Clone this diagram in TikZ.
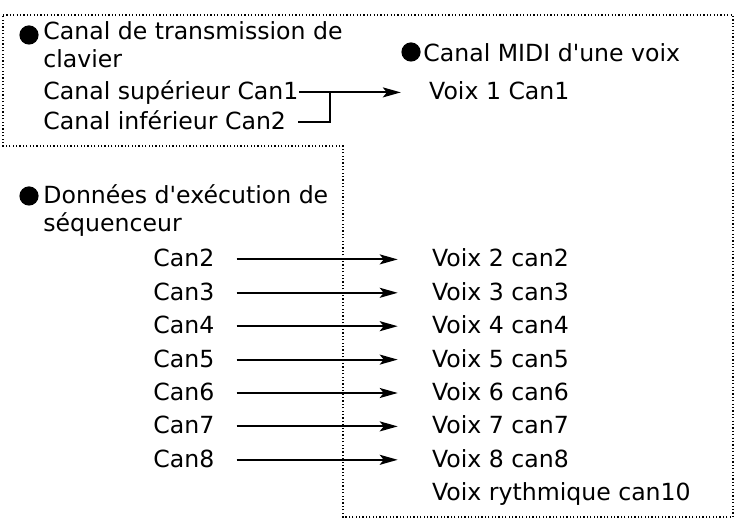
\documentclass[tikz,border=0pt]{standalone}
\usepackage{fontspec}
\setmainfont{DejaVu Sans}
\usetikzlibrary{positioning,arrows.meta,calc}

\begin{document}
\begin{tikzpicture}[x=0.5pt, y=-0.5pt, >={Stealth[length=9pt, width=5pt, inset=2pt]},
  every node/.style={font=\fontsize{11.8}{14.2}\selectfont, inner sep=0pt, anchor=base west},
  chan/.style={text height=7.6pt, text depth=0pt},
  bullet/.style={circle, fill=black, minimum size=9.6pt, anchor=center},
  link/.style={->, line width=1pt},
  frame/.style={line width=0.8pt, dash pattern=on 0.6pt off 1.1pt}]

  \useasboundingbox (0,0) rectangle (739,523);

  % keyboard channels
  \node[align=left] (keyb) at (43,68) {Canal de transmission de\\clavier};
  \node[bullet] (dotkeyb) at (29,35) {};
  \node[chan] (upper) at (43,100) {Canal supérieur Can1};
  \node[chan] (lower) at (43,130) {Canal inférieur Can2};

  % MIDI channel of one voice
  \node (midi) at (423,62) {Canal MIDI d\textquotesingle une voix};
  \node[bullet] (dotmidi) at (411,52) {};
  \node[chan, right=65pt of upper] (voice1) {Voix 1 Can1};

  \coordinate (join) at ($(upper.east)+(31,0)$);
  \draw[link, shorten >=14pt] (upper) -- (voice1);
  \draw[line width=1pt, shorten <=6pt] (lower) -| (join);

  % sequencer data
  \node[align=left] (seq) at (43,232) {Données d\textquotesingle exécution de\\séquenceur};
  \node[bullet] (dotseq) at (29,196) {};

  \node[chan] (can2) at (153,267) {Can2};
  \node[chan, below=8.7pt of can2] (can3) {Can3};
  \node[chan, below=8.7pt of can3] (can4) {Can4};
  \node[chan, below=8.7pt of can4] (can5) {Can5};
  \node[chan, below=8.7pt of can5] (can6) {Can6};
  \node[chan, below=8.7pt of can6] (can7) {Can7};
  \node[chan, below=8.7pt of can7] (can8) {Can8};

  \node[chan, right=108.5pt of can2] (voix2) {Voix 2 can2};
  \node[chan, right=108.5pt of can3] (voix3) {Voix 3 can3};
  \node[chan, right=108.5pt of can4] (voix4) {Voix 4 can4};
  \node[chan, right=108.5pt of can5] (voix5) {Voix 5 can5};
  \node[chan, right=108.5pt of can6] (voix6) {Voix 6 can6};
  \node[chan, right=108.5pt of can7] (voix7) {Voix 7 can7};
  \node[chan, right=108.5pt of can8] (voix8) {Voix 8 can8};
  \node[chan, below=8.7pt of voix8.south west, anchor=north west] (rhythm) {Voix rythmique can10};

  \draw[link, shorten <=11pt, shorten >=17pt] (can2) -- (voix2);
  \draw[link, shorten <=11pt, shorten >=17pt] (can3) -- (voix3);
  \draw[link, shorten <=11pt, shorten >=17pt] (can4) -- (voix4);
  \draw[link, shorten <=11pt, shorten >=17pt] (can5) -- (voix5);
  \draw[link, shorten <=11pt, shorten >=17pt] (can6) -- (voix6);
  \draw[link, shorten <=11pt, shorten >=17pt] (can7) -- (voix7);
  \draw[link, shorten <=11pt, shorten >=17pt] (can8) -- (voix8);

  % dotted outline
  \draw[frame] (3,15) -- (733,15) -- (733,517) -- (343,517) -- (343,146) -- (3,146) -- cycle;
\end{tikzpicture}
\end{document}
